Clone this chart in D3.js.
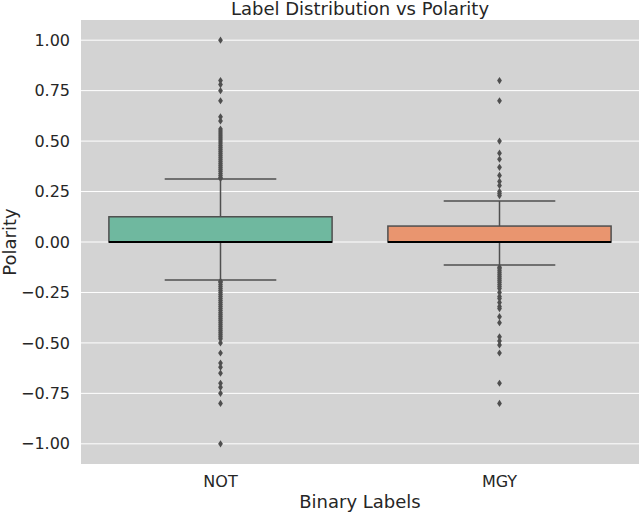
<!DOCTYPE html>
<html>
<head>
<meta charset="utf-8">
<script src="https://cdn.jsdelivr.net/npm/d3@7"></script>
<style>
  body { margin: 0; background: #fff; }
  svg text { font-family: "DejaVu Sans", sans-serif; fill: #262626; }
</style>
</head>
<body>
<svg id="chart" width="640" height="512"></svg>
<script>
// box summary per category
var categories = ["NOT", "MGY"];
var q1 = [0, 0];
var medians = [0, 0];
var q3 = [0.125, 0.079];
var whiskerLow = [-0.188, -0.114];
var whiskerHigh = [0.312, 0.203];
var fills = ["#6fb89f", "#e9956f"];

// fliers
var outliersNOT = [1.0, 0.8, 0.78, 0.75, 0.7, 0.62, 0.6, 0.56, 0.55, 0.54, 0.53, 0.52, 0.51, 0.5,
  0.49, 0.48, 0.47, 0.46, 0.45, 0.44, 0.43, 0.42, 0.41, 0.4, 0.39, 0.38, 0.37, 0.36, 0.35,
  0.34, 0.33, 0.32, 0.315,
  -0.195, -0.2, -0.21, -0.22, -0.23, -0.24, -0.25, -0.26, -0.27, -0.28, -0.29, -0.3, -0.31,
  -0.32, -0.33, -0.34, -0.35, -0.36, -0.37, -0.38, -0.39, -0.4, -0.41, -0.42, -0.43, -0.44,
  -0.45, -0.46, -0.47, -0.48, -0.5, -0.55, -0.6, -0.62, -0.65, -0.7, -0.72, -0.75, -0.8, -1.0];
var outliersMGY = [0.8, 0.7, 0.5, 0.44, 0.41, 0.37, 0.33, 0.3, 0.28, 0.25, 0.24, 0.23,
  -0.125, -0.13, -0.14, -0.15, -0.16, -0.17, -0.18, -0.19, -0.2, -0.21, -0.22, -0.23, -0.25,
  -0.27, -0.28, -0.3, -0.32, -0.33, -0.37, -0.4, -0.47, -0.49, -0.51, -0.55, -0.7, -0.8];
var outliers = [outliersNOT, outliersMGY];

var yTicks = [1, 0.75, 0.5, 0.25, 0, -0.25, -0.5, -0.75, -1];

var margin = {top: 20, right: 1, bottom: 48, left: 81};
var svg = d3.select("#chart");
var width = 640 - margin.left - margin.right;
var height = 512 - margin.top - margin.bottom;
var g = svg.append("g").attr("transform", "translate(" + margin.left + "," + margin.top + ")");

var x = d3.scaleBand().domain(categories).range([0, width]).paddingInner(0.2).paddingOuter(0.1);
var y = d3.scaleLinear().domain([-1.1, 1.1]).range([height, 0]);

g.append("rect")
  .attr("width", width)
  .attr("height", height)
  .attr("fill", "#d3d3d3");

// grid
g.selectAll(".grid")
  .data(yTicks)
  .enter().append("line")
  .attr("class", "grid")
  .attr("x1", 0)
  .attr("x2", width)
  .attr("y1", function(d) { return y(d); })
  .attr("y2", function(d) { return y(d); })
  .attr("stroke", "#fff")
  .attr("stroke-width", 1);

var yAxis = g.append("g")
  .call(d3.axisLeft(y).tickValues(yTicks).tickFormat(d3.format(".2f")).tickSize(0).tickPadding(11));
yAxis.select(".domain").remove();
yAxis.selectAll("text").style("font-size", "16px").attr("fill", "#262626");

var xAxis = g.append("g")
  .attr("transform", "translate(0," + height + ")")
  .call(d3.axisBottom(x).tickSize(0).tickPadding(12));
xAxis.select(".domain").remove();
xAxis.selectAll("text").style("font-size", "16px").attr("fill", "#262626");

var lineColor = "#4f4f4f";
var boxes = g.selectAll(".box")
  .data(categories)
  .enter().append("g")
  .attr("class", "box");

boxes.each(function(c, i) {
  var sel = d3.select(this);
  var bw = x.bandwidth();
  var x0 = x(c);
  var cx = x0 + bw / 2;

  // whiskers
  sel.append("line")
    .attr("x1", cx).attr("x2", cx)
    .attr("y1", y(q3[i])).attr("y2", y(whiskerHigh[i]))
    .attr("stroke", lineColor).attr("stroke-width", 1.5);
  sel.append("line")
    .attr("x1", cx).attr("x2", cx)
    .attr("y1", y(q1[i])).attr("y2", y(whiskerLow[i]))
    .attr("stroke", lineColor).attr("stroke-width", 1.5);
  [whiskerHigh[i], whiskerLow[i]].forEach(function(v) {
    sel.append("line")
      .attr("x1", cx - bw / 4).attr("x2", cx + bw / 4)
      .attr("y1", y(v)).attr("y2", y(v))
      .attr("stroke", lineColor).attr("stroke-width", 1.5);
  });

  sel.append("rect")
    .attr("x", x0)
    .attr("width", bw)
    .attr("y", y(q3[i]))
    .attr("height", y(q1[i]) - y(q3[i]))
    .attr("fill", fills[i])
    .attr("stroke", lineColor)
    .attr("stroke-width", 1.5);

  sel.append("line")
    .attr("x1", x0).attr("x2", x0 + bw)
    .attr("y1", y(medians[i])).attr("y2", y(medians[i]))
    .attr("stroke", "#000").attr("stroke-width", 2.2);

  sel.selectAll(".flier")
    .data(outliers[i])
    .enter().append("path")
    .attr("class", "flier")
    .attr("d", "M0,-3.6L2.4,0L0,3.6L-2.4,0Z")
    .attr("transform", function(d) { return "translate(" + cx + "," + y(d) + ")"; })
    .attr("fill", lineColor);
});

svg.append("text")
  .attr("x", margin.left + width / 2)
  .attr("y", 15)
  .attr("text-anchor", "middle")
  .style("font-size", "18px")
  .text("Label Distribution vs Polarity");

svg.append("text")
  .attr("x", margin.left + width / 2)
  .attr("y", 508)
  .attr("text-anchor", "middle")
  .style("font-size", "18px")
  .text("Binary Labels");

svg.append("text")
  .attr("transform", "translate(16," + (margin.top + y(0)) + ") rotate(-90)")
  .attr("text-anchor", "middle")
  .style("font-size", "18px")
  .text("Polarity");
</script>
</body>
</html>
